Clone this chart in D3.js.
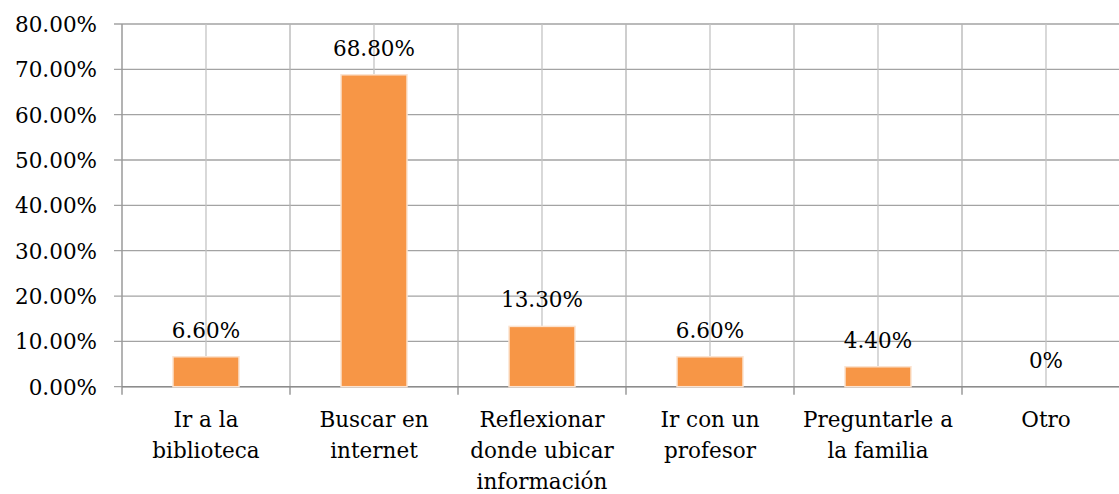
<!DOCTYPE html>
<html>
<head>
  <meta charset="utf-8">
  <script src="https://d3js.org/d3.v7.min.js"></script>
  <style>
    body { margin: 0; background: #fff; }
    text { font-family: "DejaVu Serif", serif; fill: #000; }
  </style>
</head>
<body>
<script>
  // values
  var categories = ["Ir a la|biblioteca", "Buscar en|internet", "Reflexionar|donde ubicar|información",
                    "Ir con un|profesor", "Preguntarle a|la familia", "Otro"];
  var values = [6.6, 68.8, 13.3, 6.6, 4.4, 0];
  var valueLabels = ["6.60%", "68.80%", "13.30%", "6.60%", "4.40%", "0%"];
  var yTicks = [0, 10, 20, 30, 40, 50, 60, 70, 80];

  (function () {
  var W = 1119, H = 494;
  var mLeft = 122, mRight = 1130, mTop = 24, mBottom = 386.7;

  var svg = d3.select("body").append("svg")
    .attr("width", W).attr("height", H);

  var x = d3.scaleBand().domain(d3.range(categories.length)).range([mLeft, mRight]).padding(0);
  var y = d3.scaleLinear().domain([0, 80]).range([mBottom, mTop]);
  var fs = 21.5;

  // horizontal gridlines + outward ticks
  svg.append("g").selectAll("line").data(yTicks).enter().append("line")
    .attr("x1", mLeft - 8).attr("x2", mRight)
    .attr("y1", function (d) { return y(d); }).attr("y2", function (d) { return y(d); })
    .attr("stroke", "#a3a3a3").attr("stroke-width", 1.3);

  // vertical gridlines at centres and boundaries
  var vlines = [];
  d3.range(categories.length).forEach(function (i) {
    vlines.push({ x: x(i) + x.bandwidth() / 2, c: "#c4c4c4" });
    vlines.push({ x: x(i) + x.bandwidth(), c: "#b4b4b4" });
  });
  svg.append("g").selectAll("line").data(vlines).enter().append("line")
    .attr("x1", function (d) { return d.x; }).attr("x2", function (d) { return d.x; })
    .attr("y1", mTop).attr("y2", mBottom)
    .attr("stroke", function (d) { return d.c; }).attr("stroke-width", 1.3);

  // y axis line
  svg.append("line").attr("x1", mLeft).attr("x2", mLeft).attr("y1", mTop).attr("y2", mBottom + 8)
    .attr("stroke", "#9a9a9a").attr("stroke-width", 1.5);

  // x axis ticks at boundaries
  svg.append("g").selectAll("line").data(d3.range(categories.length)).enter().append("line")
    .attr("x1", function (i) { return x(i) + x.bandwidth(); })
    .attr("x2", function (i) { return x(i) + x.bandwidth(); })
    .attr("y1", mBottom).attr("y2", mBottom + 8)
    .attr("stroke", "#9a9a9a").attr("stroke-width", 1.5);

  svg.append("line").attr("x1", mLeft).attr("x2", mRight).attr("y1", mBottom).attr("y2", mBottom)
    .attr("stroke", "#8c8c8c").attr("stroke-width", 1.5);

  // bars
  var bw = 66;
  svg.append("g").selectAll("rect").data(values).enter().append("rect")
    .attr("x", function (d, i) { return x(i) + x.bandwidth() / 2 - bw / 2; })
    .attr("y", function (d) { return y(d); })
    .attr("width", bw)
    .attr("height", function (d) { return mBottom - y(d); })
    .attr("fill", "#F79646")
    .attr("stroke", "#fbe3d0").attr("stroke-width", 1.5);

  // value labels
  svg.append("g").selectAll("text").data(values).enter().append("text")
    .attr("x", function (d, i) { return x(i) + x.bandwidth() / 2; })
    .attr("y", function (d) { return y(d) - 19; })
    .attr("text-anchor", "middle")
    .style("font-size", fs + "px")
    .text(function (d, i) { return valueLabels[i]; });

  // y tick labels
  svg.append("g").selectAll("text").data(yTicks).enter().append("text")
    .attr("x", 97).attr("y", function (d) { return y(d) + 8; })
    .attr("text-anchor", "end")
    .style("font-size", fs + "px")
    .text(function (d) { return d3.format(".2f")(d) + "%"; });

  // category labels
  var cat = svg.append("g").selectAll("text").data(categories).enter().append("text")
    .attr("text-anchor", "middle")
    .style("font-size", fs + "px");
  cat.each(function (d, i) {
    var t = d3.select(this);
    d.split("|").forEach(function (line, j) {
      t.append("tspan")
        .attr("x", x(i) + x.bandwidth() / 2)
        .attr("y", 427 + j * 31)
        .text(line);
    });
  });
  })();
</script>
</body>
</html>
